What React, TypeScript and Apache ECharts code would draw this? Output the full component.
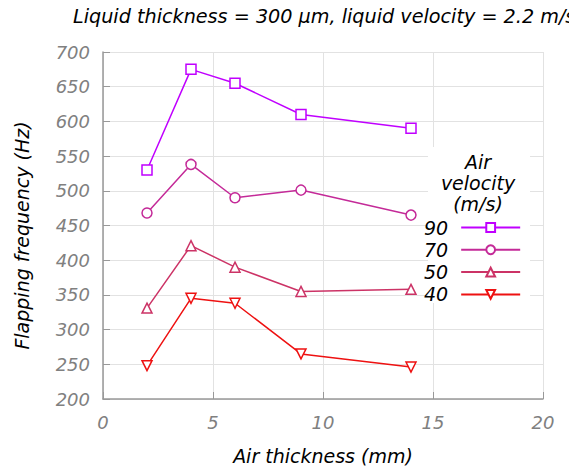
import React, { useEffect, useRef } from "react";
import * as echarts from "echarts";

const airThickness = [2, 4, 6, 9, 14];
const seriesNames = ["90", "70", "50", "40"];
const v90 = [530, 675, 655, 610, 590];
const v70 = [468, 538, 490, 501, 465];
const v50 = [331, 421, 390, 355, 358];
const v40 = [248, 345, 338, 265, 246];
const seriesColors = ["#c000ff", "#c42a98", "#cc3366", "#ee1111"];
const seriesSymbols = ["rect", "circle", "triangle", "triangle"];
const seriesRotate = [0, 0, 0, 180];

const FONT = "DejaVu Sans";

export default function App() {
  const ref = useRef<HTMLDivElement>(null);
  useEffect(() => {
    const chart = echarts.init(ref.current!, null, { renderer: "svg" });
    const values = [v90, v70, v50, v40];
    const series = seriesNames.map((name, i) => ({
      name,
      type: "line",
      data: airThickness.map((x, j) => [x, values[i][j]]),
      symbol: seriesSymbols[i],
      symbolSize: 10,
      symbolRotate: seriesRotate[i],
      showAllSymbol: true,
      lineStyle: { color: seriesColors[i], width: 1.5 },
      itemStyle: { color: "#fff", borderColor: seriesColors[i], borderWidth: 1.5 },
      emphasis: { disabled: true },
      z: 2,
    }));
    chart.setOption({
      animation: false,
      textStyle: { fontFamily: FONT },
      title: {
        text: "Liquid thickness = 300 μm, liquid velocity = 2.2 m/s",
        left: 73,
        top: 7,
        padding: 0,
        textStyle: { fontFamily: FONT, fontStyle: "italic", fontWeight: "normal", fontSize: 19.2, color: "#000" },
      },
      grid: { left: 103, right: 26, top: 52, bottom: 67, containLabel: false },
      xAxis: {
        type: "value",
        min: 0,
        max: 20,
        interval: 5,
        name: "Air thickness (mm)",
        nameLocation: "middle",
        nameGap: 47,
        nameTextStyle: { fontFamily: FONT, fontStyle: "italic", fontSize: 19, color: "#000" },
        axisLine: { show: true, lineStyle: { color: "#999", width: 1.5 } },
        axisTick: { show: true, inside: true, length: 7, lineStyle: { color: "#999" } },
        axisLabel: { margin: 14, fontFamily: FONT, fontStyle: "italic", fontSize: 18, color: "#808080" },
        splitLine: { show: true, lineStyle: { color: "#e2e2e2", width: 1 } },
      },
      yAxis: {
        type: "value",
        min: 200,
        max: 700,
        interval: 50,
        name: "Flapping frequency (Hz)",
        nameLocation: "middle",
        nameGap: 72,
        nameRotate: 90,
        nameTextStyle: { fontFamily: FONT, fontStyle: "italic", fontSize: 19, color: "#000", padding: [0, 20, 0, 0] },
        axisLine: { show: true, lineStyle: { color: "#999", width: 1.5 } },
        axisTick: { show: true, inside: true, length: 7, lineStyle: { color: "#999" } },
        axisLabel: { margin: 13, fontFamily: FONT, fontStyle: "italic", fontSize: 18, color: "#808080" },
        splitLine: { show: true, lineStyle: { color: "#e2e2e2", width: 1 } },
      },
      legend: {
        data: seriesNames,
        orient: "vertical",
        left: 424,
        top: 218,
        align: "right",
        padding: 0,
        itemWidth: 59,
        itemHeight: 11,
        itemGap: 3.3,
        selectedMode: false,
        textStyle: { fontFamily: FONT, fontStyle: "italic", fontSize: 19, color: "#000", padding: [0, 8, 0, 0] },
      },
      graphic: [
        { type: "rect", z: 3, shape: { x: 428, y: 147, width: 102, height: 156 }, style: { fill: "#fff" } },
        {
          type: "text",
          z: 5,
          x: 478,
          y: 151,
          style: {
            text: "Air\nvelocity\n(m/s)",
            fontFamily: FONT,
            fontStyle: "italic",
            fontSize: 19,
            lineHeight: 21,
            fill: "#000",
            align: "center",
          },
        },
      ],
      series,
    });
    return () => chart.dispose();
  }, []);
  return <div ref={ref} style={{ width: 569, height: 470, position: "absolute", left: 0, top: 0 }} />;
}
